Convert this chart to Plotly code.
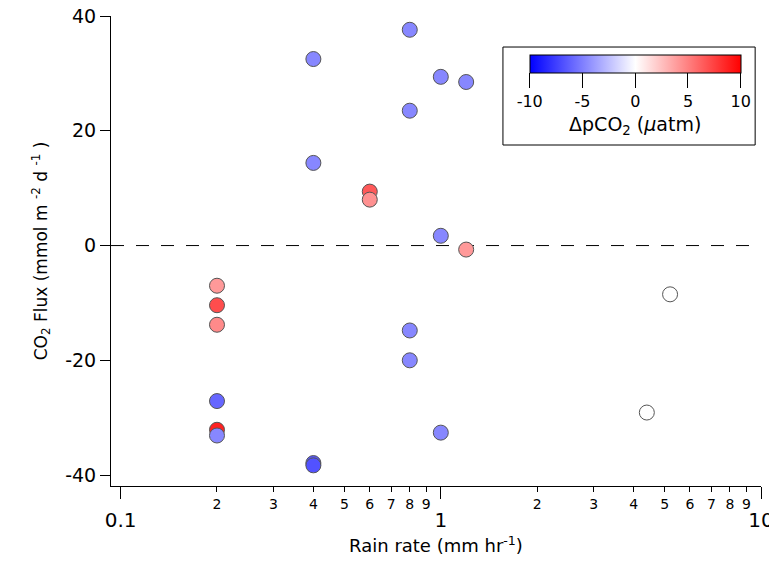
import plotly.graph_objects as go

# Data
rain_rate = [0.2, 0.2, 0.2, 0.2, 0.2, 0.2,
             0.4, 0.4, 0.4, 0.4,
             0.6, 0.6,
             0.8, 0.8, 0.8, 0.8,
             1.0, 1.0, 1.0,
             1.2, 1.2,
             4.4, 5.2]
co2_flux = [-7.0, -10.4, -13.8, -27.1, -32.1, -33.1,
            32.5, 14.4, -37.9, -38.3,
            9.4, 8.0,
            37.6, 23.5, -14.8, -20.0,
            29.4, 1.7, -32.6,
            28.5, -0.7,
            -29.1, -8.5]
dpco2 = [4.0, 7.0, 4.6, -6.0, 8.7, -4.7,
         -4.7, -4.7, -6.6, -6.8,
         6.5, 4.3,
         -4.7, -4.7, -4.7, -4.7,
         -4.7, -4.7, -4.7,
         -4.7, 4.0,
         0.0, 0.0]

minor_vals = [0.2, 0.3, 0.4, 0.5, 0.6, 0.7, 0.8, 0.9,
              2, 3, 4, 5, 6, 7, 8, 9]
minor_text = ['2', '3', '4', '5', '6', '7', '8', '9',
              '2', '3', '4', '5', '6', '7', '8', '9']
major_vals = [0.1, 1, 10]
major_text = ['0.1', '1', '10']
y_vals = [-40, -20, 0, 20, 40]
y_text = ['-40', '-20', '0', '20', '40']
cb_vals = [-10, -5, 0, 5, 10]
cb_text = ['-10', '-5', '0', '5', '10']

FONT = 'DejaVu Sans'

fig = go.Figure()

fig.add_trace(go.Scatter(
    x=rain_rate, y=co2_flux, mode='markers',
    marker=dict(
        size=15,
        color=dpco2,
        cmin=-10, cmax=10,
        colorscale=[[0, 'rgb(0,0,255)'], [0.5, 'rgb(255,255,255)'], [1, 'rgb(255,0,0)']],
        line=dict(color='#555555', width=1),
        showscale=True,
        colorbar=dict(
            orientation='h',
            x=0.8065, xanchor='center',
            y=0.917, yanchor='top',
            len=211, lenmode='pixels',
            thickness=18, thicknessmode='pixels',
            xpad=0, ypad=0,
            outlinewidth=1, outlinecolor='black',
            ticks='outside', ticklen=15, tickcolor='black', tickwidth=1,
            tickmode='array', tickvals=cb_vals, ticktext=cb_text,
            tickfont=dict(family=FONT, size=16, color='black'),
            title=dict(text='ΔpCO<sub>2</sub> (<i>µ</i>atm)', side='bottom',
                       font=dict(family=FONT, size=19, color='black')),
        ),
    ),
    showlegend=False, hoverinfo='skip',
))

# invisible helper trace so the overlaid major-tick axis is drawn
fig.add_trace(go.Scatter(x=[1], y=[None], xaxis='x2', yaxis='y',
                         mode='markers', showlegend=False, hoverinfo='skip'))

fig.update_layout(
    width=769, height=554,
    margin=dict(l=103, r=16, t=8, b=76),
    paper_bgcolor='white', plot_bgcolor='white',
    font=dict(family=FONT, color='black'),
    xaxis=dict(
        type='log', range=[-1.03, 1.0], automargin=False,
        showgrid=False, zeroline=False,
        showline=True, linecolor='black', linewidth=1,
        ticks='outside', ticklen=5, tickcolor='black',
        tickmode='array', tickvals=minor_vals, ticktext=minor_text,
        tickfont=dict(family=FONT, size=14, color='black'),
    ),
    xaxis2=dict(
        type='log', range=[-1.03, 1.0], automargin=False,
        overlaying='x', anchor='y', side='bottom',
        showgrid=False, zeroline=False, showline=False,
        ticks='outside', ticklen=12, tickcolor='black',
        tickmode='array', tickvals=major_vals, ticktext=major_text,
        ticklabelstandoff=4, ticklabeloverflow='allow',
        tickfont=dict(family=FONT, size=20, color='black'),
        title=dict(text='Rain rate (mm hr<sup>-1</sup>)', standoff=8,
                   font=dict(family=FONT, size=18, color='black')),
    ),
    yaxis=dict(
        range=[-41.9, 40], automargin=False,
        showgrid=False, zeroline=False,
        showline=True, linecolor='black', linewidth=1,
        ticks='outside', ticklen=10, tickcolor='black',
        tickmode='array', tickvals=y_vals, ticktext=y_text,
        ticklabeloverflow='allow',
        tickfont=dict(family=FONT, size=19, color='black'),
        title=dict(text='CO<sub>2</sub> Flux (mmol m <sup>-2</sup> d <sup>-1</sup> )',
                   standoff=13, font=dict(family=FONT, size=17, color='black')),
    ),
    shapes=[
        dict(type='line', xref='paper', yref='y', x0=0, x1=0.985, y0=0, y1=0,
             line=dict(color='black', width=1, dash='13px,12px'), layer='below'),
        dict(type='rect', xref='paper', yref='paper', x0=0.603, x1=0.991,
             y0=0.7255, y1=0.934, line=dict(color='black', width=1),
             fillcolor='rgba(0,0,0,0)', layer='above'),
    ],
)

fig.write_html('out.html')
